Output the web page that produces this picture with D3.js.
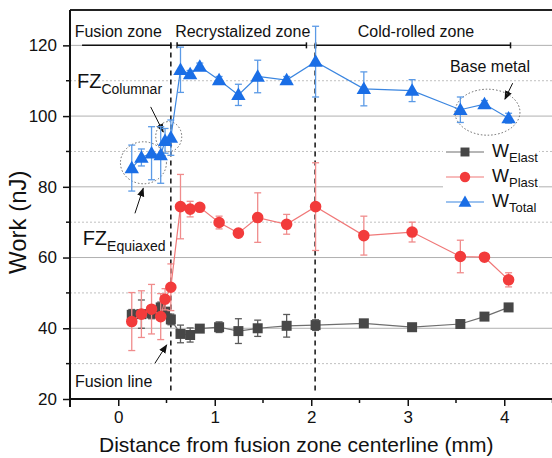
<!DOCTYPE html>
<html><head><meta charset="utf-8">
<script src="https://cdn.jsdelivr.net/npm/d3@7"></script>
<style>
html,body{margin:0;padding:0;background:#fff;}
svg{display:block;font-family:"Liberation Sans",Arial,sans-serif;}
</style></head>
<body><svg id="c" width="552" height="458"></svg>
<script>
// ---- data ----
const distance = [0.14,0.24,0.345,0.44,0.485,0.545,0.645,0.745,0.845,1.045,1.245,1.445,1.745,2.045,2.545,3.045,3.545,3.795,4.045];
const wElast = [43.8,44.0,44.2,45.9,44.7,42.5,38.4,38.1,39.9,40.3,39.2,40.0,40.7,40.9,41.4,40.3,41.2,43.3,45.9];
const wElastErr = [1.5,4,1.5,1.5,1,1.5,2.5,2,0.8,1.5,3.5,2.3,3.2,1.5,0.8,0.8,0.8,0.8,0.8];
const wPlast = [41.9,44.0,45.4,43.3,48.2,51.6,74.4,73.7,74.2,69.9,66.9,71.3,69.4,74.4,66.2,67.2,60.3,60.1,53.7];
const wPlastErr = [8.2,6.6,7,6.5,3,6.6,9.1,2.2,0.8,1.8,0.8,7,2.8,12.4,5.5,2.8,4.6,0.8,2];
const wTotal = [85.3,88.3,89.5,89.0,93.0,93.9,113.1,111.9,114.0,110.2,106.0,111.2,110.2,115.4,107.7,107.2,101.8,103.4,99.4];
const wTotalErr = [6.5,2.4,7.5,8,3.5,5,6.4,1,1,1,3,4.6,1,10,4.8,3.1,3.6,1,1.4];
const xTicks = [0,1,2,3,4];
const xMinor = [-0.5,0.5,1.5,2.5,3.5,4.5];
const yTicks = [20,40,60,80,100,120];
const yMinor = [30,50,70,90,110];
const boundaries = [0.545,2.04];
const zoneNames = ["Fusion zone","Recrystalized zone","Cold-rolled zone"];
const zoneCenters = [0,1.29,3.085];
const zoneRanges = [[-0.375,0.545],[0.61,1.95],[2.045,4.065]];

// ---- chart ----
const svg = d3.select("#c");
const x = d3.scaleLinear([-0.5,4.5],[70,552.5]);
const y = d3.scaleLinear([20,130],[399,10]);
const FONT = '"Liberation Sans",Arial,sans-serif';

// grid
svg.append("g").selectAll("line").data(yTicks.filter(d=>d>20)).join("line")
  .attr("x1",x(-0.5)).attr("x2",x(4.5)).attr("y1",d=>y(d)).attr("y2",d=>y(d))
  .attr("stroke","#b0b0b0").attr("stroke-width",1);
svg.append("g").selectAll("line").data(yMinor).join("line")
  .attr("x1",x(-0.5)).attr("x2",x(4.5)).attr("y1",d=>y(d)).attr("y2",d=>y(d))
  .attr("stroke","#c0c0c0").attr("stroke-width",1).attr("stroke-dasharray","2,2");

// top border
svg.append("line").attr("x1",x(-0.5)).attr("x2",x(4.5)).attr("y1",y(130)).attr("y2",y(130))
  .attr("stroke","#222").attr("stroke-width",2);

// boundaries dashed
svg.append("g").selectAll("line").data(boundaries).join("line")
  .attr("x1",d=>x(d)).attr("x2",d=>x(d)).attr("y1",y(120.5)).attr("y2",y(22))
  .attr("stroke","#111").attr("stroke-width",1.5).attr("stroke-dasharray","5,4");

// zone brackets
const zb = svg.append("g").attr("stroke","#111").attr("stroke-width",1.5);
zoneRanges.forEach(r=>{
  zb.append("line").attr("x1",x(r[0])).attr("x2",x(r[1])).attr("y1",y(120)).attr("y2",y(120));
  zb.append("line").attr("x1",x(r[1])).attr("x2",x(r[1])).attr("y1",y(120)-3).attr("y2",y(120)+3);
});
zb.append("line").attr("x1",x(zoneRanges[1][0])).attr("x2",x(zoneRanges[1][0])).attr("y1",y(120)-3).attr("y2",y(120)+3);
zb.append("line").attr("x1",x(zoneRanges[2][0])).attr("x2",x(zoneRanges[2][0])).attr("y1",y(120)-3).attr("y2",y(120)+3);
svg.append("g").selectAll("text").data(zoneNames).join("text")
  .attr("x",(d,i)=>x(zoneCenters[i])).attr("y",y(122.4)).attr("text-anchor","middle")
  .attr("font-size",16).attr("fill","#111").text(d=>d);

// axes
const gx = svg.append("g").attr("transform",`translate(0,${y(20)})`)
  .call(d3.axisBottom(x).tickValues(xTicks).tickSize(7).tickPadding(5).tickFormat(d3.format("d")));
gx.append("g").selectAll("line").data(xMinor).join("line")
  .attr("x1",d=>x(d)).attr("x2",d=>x(d)).attr("y1",0).attr("y2",4).attr("stroke","#111").attr("stroke-width",1.5);
const gy = svg.append("g").attr("transform",`translate(${x(-0.5)},0)`)
  .call(d3.axisLeft(y).tickValues(yTicks).tickSize(7).tickPadding(6));
gy.append("g").selectAll("line").data(yMinor).join("line")
  .attr("x1",-4).attr("x2",0).attr("y1",d=>y(d)).attr("y2",d=>y(d)).attr("stroke","#111").attr("stroke-width",1.5);
[gx,gy].forEach(g=>{
  g.select(".domain").attr("stroke","#111").attr("stroke-width",2);
  g.selectAll(".tick line").attr("stroke","#111").attr("stroke-width",1.5);
  g.selectAll(".tick text").attr("font-size",17).attr("font-family",FONT).attr("fill","#111");
});
gx.select(".domain").attr("d",`M${x(-0.5)-1},0H${x(4.5)}`);
gy.select(".domain").attr("d",`M0,${y(130)}V${y(20)+8}`);

svg.append("text").attr("x",(x(-0.5)+x(4.5))/2-15).attr("y",452).attr("text-anchor","middle")
  .attr("font-size",21).attr("fill","#111").text("Distance from fusion zone centerline (mm)");
svg.append("text").attr("transform",`translate(26,${y(70)}) rotate(-90)`).attr("text-anchor","middle")
  .attr("font-size",24).attr("fill","#111").text("Work (nJ)");

// annotations
svg.append("defs").append("marker").attr("id","ah").attr("viewBox","0 0 10 10").attr("refX",9).attr("refY",5)
  .attr("markerWidth",9).attr("markerHeight",9).attr("markerUnits","userSpaceOnUse").attr("orient","auto")
  .append("path").attr("d","M0,1L10,5L0,9Z").attr("fill","#111");
const arrows = [[[0.336,102.6],[0.466,95.5]],[[0.173,72.5],[0.259,79.6]],[[0.38,30.1],[0.502,35.3]],[[4.087,109.3],[4.007,104.8]]];
svg.append("g").selectAll("line").data(arrows).join("line")
  .attr("x1",d=>x(d[0][0])).attr("y1",d=>y(d[0][1])).attr("x2",d=>x(d[1][0])).attr("y2",d=>y(d[1][1]))
  .attr("stroke","#111").attr("stroke-width",1).attr("marker-end","url(#ah)");
const ellipses = [[0.261,86.8,23,21],[0.523,94.2,13,15],[3.826,101.1,32.5,23]];
svg.append("g").selectAll("ellipse").data(ellipses).join("ellipse")
  .attr("cx",d=>x(d[0])).attr("cy",d=>y(d[1])).attr("rx",d=>d[2]).attr("ry",d=>d[3])
  .attr("fill","none").attr("stroke","#666").attr("stroke-width",1).attr("stroke-dasharray","1.5,2");
function subLabel(px,py,main,sub,fs,ss,dy){
  const t = svg.append("text").attr("x",px).attr("y",py).attr("font-size",fs).attr("fill","#111");
  t.append("tspan").text(main);
  t.append("tspan").attr("font-size",ss).attr("dy",dy).text(sub);
}
subLabel(x(-0.428),y(107.9),"FZ","Columnar",20,14,6);
subLabel(x(-0.369),y(63.6),"FZ","Equiaxed",20,14,6);
svg.append("text").attr("x",x(-0.449)).attr("y",y(23.5)).attr("font-size",16).attr("fill","#111").text("Fusion line");
svg.append("text").attr("x",x(3.437)).attr("y",y(112.6)).attr("font-size",16).attr("fill","#111").text("Base metal");

// series
const series = [
  {name:"Elast",vals:wElast,err:wElastErr,line:"#6e6e6e",fill:"#474747",errc:"#5a5a5a",shape:d3.symbolSquare,size:100},
  {name:"Plast",vals:wPlast,err:wPlastErr,line:"#f07878",fill:"#f23b3b",errc:"#f08c8c",shape:d3.symbolCircle,size:105},
  {name:"Total",vals:wTotal,err:wTotalErr,line:"#3b86e0",fill:"#1a6ee6",errc:"#5b9ae6",shape:d3.symbolTriangle,size:90}
];
series.forEach(s=>{
  const g = svg.append("g");
  const pts = distance.map((d,i)=>({x:d,v:s.vals[i],e:s.err[i]}));
  g.append("path").datum(pts).attr("fill","none").attr("stroke",s.line).attr("stroke-width",1.2)
    .attr("d",d3.line().x(d=>x(d.x)).y(d=>y(d.v)));
  const eb = g.append("g").attr("stroke",s.errc).attr("stroke-width",1.3);
  pts.forEach(p=>{
    eb.append("line").attr("x1",x(p.x)).attr("x2",x(p.x)).attr("y1",y(p.v+p.e)).attr("y2",y(p.v-p.e));
    eb.append("line").attr("x1",x(p.x)-3.5).attr("x2",x(p.x)+3.5).attr("y1",y(p.v+p.e)).attr("y2",y(p.v+p.e));
    eb.append("line").attr("x1",x(p.x)-3.5).attr("x2",x(p.x)+3.5).attr("y1",y(p.v-p.e)).attr("y2",y(p.v-p.e));
  });
  g.selectAll("path.m").data(pts).join("path").attr("class","m")
    .attr("transform",d=>`translate(${x(d.x)},${y(d.v)+(s.shape===d3.symbolTriangle?1:0)})`)
    .attr("d",d3.symbol(s.shape,s.size)).attr("fill",s.fill);
});

// legend
const lg = svg.append("g");
lg.append("rect").attr("x",443).attr("y",140).attr("width",96).attr("height",72).attr("fill","#fff");
series.forEach((s,i)=>{
  const ly = 152+i*25;
  lg.append("line").attr("x1",446).attr("x2",484).attr("y1",ly).attr("y2",ly).attr("stroke",s.line).attr("stroke-width",1.2);
  lg.append("path").attr("transform",`translate(465,${ly+(s.shape===d3.symbolTriangle?1:0)})`)
    .attr("d",d3.symbol(s.shape,s.size*0.8)).attr("fill",s.fill);
  const t = lg.append("text").attr("x",492).attr("y",ly+5).attr("font-size",18).attr("fill","#111");
  t.append("tspan").text("W");
  t.append("tspan").attr("font-size",13).attr("dy",5).text(s.name);
});
</script></body></html>
